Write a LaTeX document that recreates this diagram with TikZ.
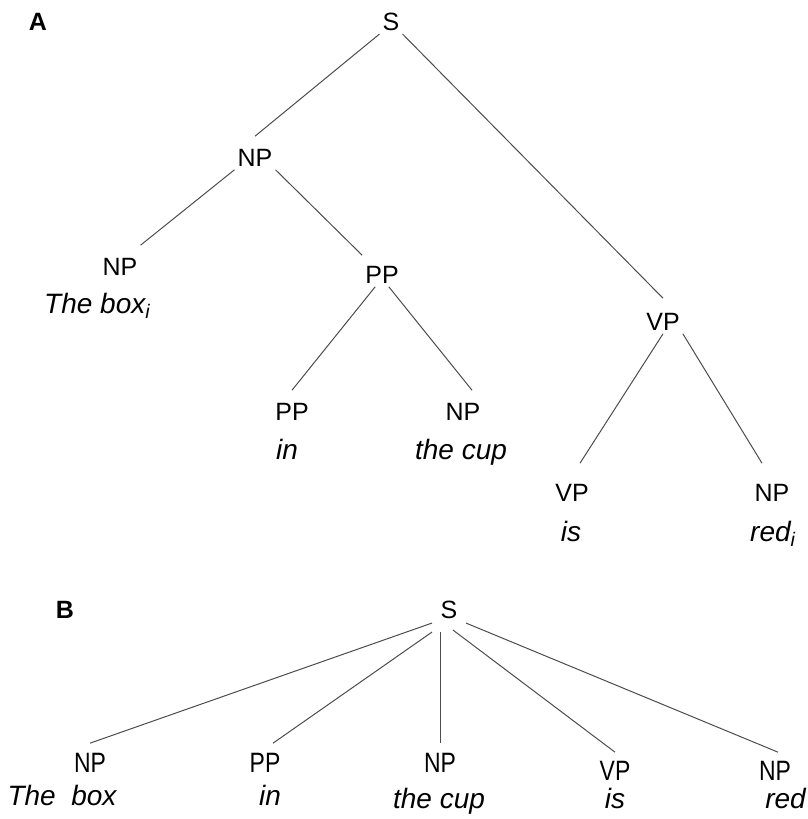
\documentclass[tikz,border=0pt]{standalone}
\usepackage{fontspec}
\setmainfont{Liberation Sans}
\tikzset{
  panel/.style={inner sep=0pt, font=\fontsize{25}{30}\selectfont\bfseries},
  cat/.style={inner sep=3pt, font=\fontsize{25}{30}\selectfont},
  catb/.style={inner sep=1pt, font=\fontsize{28}{34}\selectfont},
  word/.style={anchor=base, inner sep=0pt, font=\fontsize{28}{34}\selectfont\itshape},
  branch/.style={draw=black!70, line width=1pt},
}
\newcommand{\narrowcat}[1]{\scalebox{0.82}[1]{#1}}

\begin{document}
\begin{tikzpicture}[x=1pt,y=-1pt]
\useasboundingbox (0,0) rectangle (807,819);

%Tree A
% Text Node
\node[panel] (panelA) at (38,22) {A};
\node[cat] (S1) at (391,22) {S};
\node[cat] (NP1) at (255,158) {NP};
\node[cat] (NP2) at (120,267) {NP};
\node[cat] (PP1) at (382,275) {PP};
\node[cat] (VP1) at (663,322) {VP};
\node[cat] (PP2) at (292,412) {PP};
\node[cat] (NP3) at (463,412) {NP};
\node[cat] (VP2) at (572,493) {VP};
\node[cat] (NP4) at (772,493) {NP};
% Text Node
\node[word, anchor=base west] (wA1) at (44,313) {The box\textsubscript{i}};
\node[word] (wA2) at (287,459) {in};
\node[word] (wA3) at (461,459) {the cup};
\node[word] (wA4) at (571,541) {is};
\node[word, anchor=base west] (wA5) at (750,541) {red\textsubscript{i}};

%Straight Lines
\draw[branch] (S1.south west) -- ([yshift=10pt]NP1.north);
\draw[branch] (S1.south east) -- ([yshift=12pt]VP1.north);
\draw[branch] (NP1.south west) -- ([yshift=10pt]NP2.north east);
\draw[branch] (NP1.south east) -- ([yshift=8pt]PP1.north west);
\draw[branch] (PP1.-120) -- ([yshift=10pt]PP2.north);
\draw[branch] (PP1.-60) -- ([xshift=9pt,yshift=10pt]NP3.north);
\draw[branch] (VP1.south) -- ([xshift=8pt,yshift=18pt]VP2.north);
\draw[branch] (VP1.south east) -- ([xshift=-10pt,yshift=18pt]NP4.north);

%Tree B
% Text Node
\node[panel] (panelB) at (65,610) {B};
\node[cat] (S2) at (449,610) {S};
\node[catb] (NP5) at (90,763) {\narrowcat{NP}};
\node[catb] (PP3) at (265,763) {\narrowcat{PP}};
\node[catb] (NP6) at (440,763) {\narrowcat{NP}};
\node[catb] (VP3) at (615,771) {\narrowcat{VP}};
\node[catb] (NP7) at (775,771) {\narrowcat{NP}};
% Text Node
\node[word] (wB1) at (62,805) {The~ box};
\node[word] (wB2) at (270,805) {in};
\node[word] (wB3) at (439,808) {the cup};
\node[word] (wB4) at (615,808) {is};
\node[word, anchor=base east] (wB5) at (806,808) {red};

%Straight Lines
\draw[branch] ([xshift=-17pt,yshift=-1pt]S2.south) -- ([yshift=9pt]NP5.north);
\draw[branch] ([xshift=-17pt,yshift=-10pt]S2.south) -- ([xshift=8pt,yshift=9pt]PP3.north);
\draw[branch] ([xshift=-9pt,yshift=-10pt]S2.south) -- ([yshift=9pt]NP6.north);
\draw[branch] ([xshift=4pt,yshift=-8pt]S2.south) -- ([yshift=8pt]VP3.north);
\draw[branch] ([xshift=17pt,yshift=-1pt]S2.south) -- ([xshift=3pt,yshift=8pt]NP7.north);

\end{tikzpicture}
\end{document}
